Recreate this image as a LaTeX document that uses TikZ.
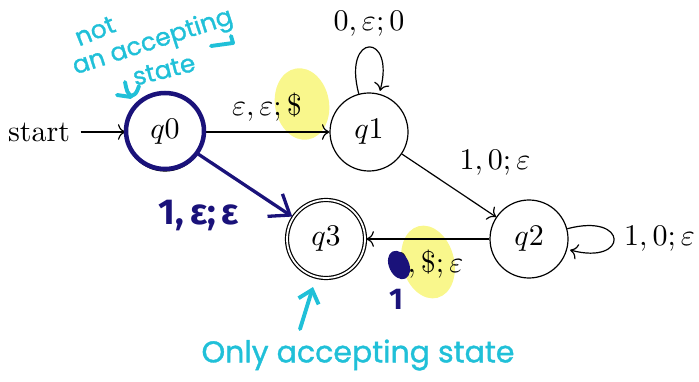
\documentclass[tikz,border=0pt]{standalone}
\usepackage{fontspec}
\newfontfamily\hand[FakeBold=1.2]{Poppins}
\newfontfamily\handb{Fira Sans}
\usetikzlibrary{automata,arrows.meta}
\definecolor{hnavy}{RGB}{26,18,122}
\definecolor{hcyan}{RGB}{32,192,216}
\definecolor{hyell}{RGB}{249,247,140}
\begin{document}
\begin{tikzpicture}[x=0.3333pt,y=-0.3333pt,
  every state/.style={draw,minimum size=26pt,inner sep=0pt},
  hnote/.style={text=hcyan,font=\hand\fontsize{8.3}{9}\selectfont,inner sep=0pt},
  hline/.style={draw=hcyan,line width=1.3pt,line cap=round,line join=round},
  nline/.style={draw=hnavy,line width=1.5pt,line cap=round,line join=round},
  ntext/.style={text=hnavy,font=\handb\bfseries\fontsize{12}{13}\selectfont}]
\useasboundingbox (0,0) rectangle (699,381);
% yellow highlights
\fill[hyell,rotate around={10:(302,104)}] (302,104) ellipse [x radius=27,y radius=36];
\fill[hyell,rotate around={15:(428,262)}] (428,262) ellipse [x radius=26,y radius=37];
% automaton
\node[state] (q0) at (165,132) {$q0$};
\node[state] (q1) at (369,132) {$q1$};
\node[state] (q2) at (529,239) {$q2$};
\node[state,accepting] (q3) at (326,239) {$q3$};
\node (start) at (39,132) {start};
\draw[->] (start) -- (q0);
\path[->] (q0) edge node[above] {$\varepsilon,\varepsilon;\$$} (q1)
  (q1) edge[loop above] node[above] {$0,\varepsilon;0$} ()
  (q1) edge node[above right] {$1,0;\varepsilon$} (q2)
  (q2) edge[loop right] node[right] {$1,0;\varepsilon$} ()
  (q2) edge node[below] (l23) {$0,\$;\varepsilon$} (q3);
% navy annotations
\draw[nline] (165,131) ellipse [x radius=39,y radius=38];
\draw[nline,line width=1.1pt,-{Straight Barb[length=6pt,width=9pt]}] (q0) -- (q3);
\node[ntext] (n1) at (199,216) {1,\,ε;\,ε};
\fill[hnavy,rotate around={25:(399,265)}] (399,265) ellipse [x radius=10,y radius=15];
\node[ntext,font=\handb\bfseries\fontsize{10}{11}\selectfont] (n2) at (396,299) {1};
% cyan annotations
\node[hnote,rotate=22] (t1) at (95,31) {not};
\node[hnote,rotate=18] (t2) at (153,43) {an accepting};
\node[hnote,rotate=14] (t3) at (164,70) {state};
\draw[hline] (211,46) -- (233,43) -- (231,36);
\draw[hline] (125,82) .. controls (127,92) .. (131,96) .. controls (136,94) .. (139,86);
\draw[hline] (117,95) -- (131,97);
\node[hnote,font=\hand\fontsize{10}{12}\selectfont] (t4) at (358,355) {Only accepting state};
\coordinate (a1) at (300,329);
\coordinate (a2) at (313,287);
\draw[hline,-{Straight Barb[length=4pt,width=7pt]}] (a1) -- (a2);
\end{tikzpicture}
\end{document}
